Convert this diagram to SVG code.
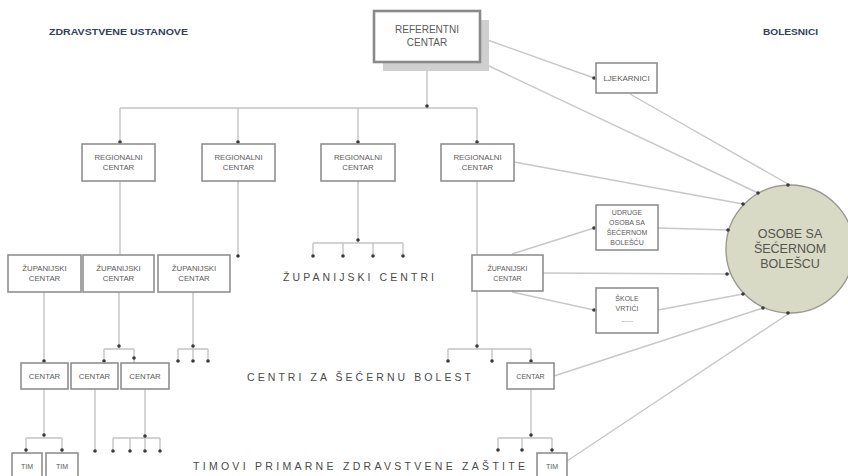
<svg xmlns="http://www.w3.org/2000/svg" width="848" height="476" viewBox="0 0 848 476">
<style>
.bg{fill:#fff}
.ln{fill:none;stroke:#c8c8c8;stroke-width:1.4}
.tr{fill:none;stroke:#c4c4c4;stroke-width:1.4}
.dot{fill:#3a3a3a}
.box{fill:#fff;stroke:#8f8f8f;stroke-width:1.6}
.t{font-family:"Liberation Sans",Arial,sans-serif;font-size:7.8px;fill:#5a5a5a;text-anchor:middle}
.s{font-size:7px}
.big{font-family:"Liberation Sans",Arial,sans-serif;font-size:10.5px;fill:#4a4a4a;letter-spacing:3px}
.hdr{font-family:"Liberation Sans",Arial,sans-serif;font-size:8.5px;fill:#34405e;font-weight:bold}
.ct{font-family:"Liberation Sans",Arial,sans-serif;font-size:12.5px;fill:#55554c;text-anchor:middle}
</style>
<rect class="bg" x="0" y="0" width="848" height="476"/>
<g id="connectors">
  <path class="tr" d="M427 62V108M120 108H477M120 108V144M238 108V144M358 108V144M477 108V144"/>
  <path class="tr" d="M120 181V255M238 181V255"/>
  <path class="tr" d="M358 181V243M313 243H403M313 243V256M343 243V256M373 243V256M403 243V256"/>
  <path class="tr" d="M477 181V349M448 349H531M448 349V361M492 349V361M531 349V363"/>
  <path class="tr" d="M44 292V363M119 292V349M104 349H134M104 349V363M134 349V363M193 292V349M178 349H208M178 349V361M193 349V361M208 349V361"/>
  <path class="tr" d="M44 389V438M26 438H62M26 438V453M62 438V453M95 389V451M145 389V438M113 438H160M113 438V451M130 438V451M145 438V451M160 438V451"/>
  <path class="tr" d="M531 389V438M498 438H552M498 438V450M522 438V450M552 438V453"/>
  <path class="ln" d="M482 38L594 78"/>
  <path class="ln" d="M487 65L758 193"/>
  <path class="ln" d="M630 94L788 184"/>
  <path class="ln" d="M514 162L743 204"/>
  <path class="ln" d="M658 228L728 230"/>
  <path class="ln" d="M543 273L730 274"/>
  <path class="ln" d="M658 310L743 294"/>
  <path class="ln" d="M554 376L763 308"/>
  <path class="ln" d="M567 461L788 314"/>
  <path class="ln" d="M512 254L594 228"/>
  <path class="ln" d="M512 292L594 310"/>
  <g class="dot">
    <circle cx="427" cy="106" r="1.8"/>
    <circle cx="120" cy="142" r="1.8"/><circle cx="238" cy="142" r="1.8"/><circle cx="358" cy="142" r="1.8"/><circle cx="477" cy="142" r="1.8"/>
    <circle cx="238" cy="256" r="1.8"/>
    <circle cx="358" cy="240" r="1.8"/>
    <circle cx="313" cy="256" r="1.8"/><circle cx="343" cy="256" r="1.8"/><circle cx="373" cy="256" r="1.8"/><circle cx="403" cy="256" r="1.8"/>
    <circle cx="477" cy="346" r="1.8"/>
    <circle cx="448" cy="361" r="1.8"/><circle cx="492" cy="361" r="1.8"/><circle cx="531" cy="361" r="1.8"/>
    <circle cx="44" cy="361" r="1.8"/>
    <circle cx="119" cy="346" r="1.8"/><circle cx="104" cy="361" r="1.8"/><circle cx="134" cy="358" r="1.8"/>
    <circle cx="193" cy="346" r="1.8"/><circle cx="178" cy="361" r="1.8"/><circle cx="193" cy="361" r="1.8"/><circle cx="208" cy="361" r="1.8"/>
    <circle cx="44" cy="435" r="1.8"/><circle cx="26" cy="450" r="1.8"/><circle cx="62" cy="450" r="1.8"/>
    <circle cx="95" cy="451" r="1.8"/>
    <circle cx="145" cy="436" r="1.8"/><circle cx="113" cy="451" r="1.8"/><circle cx="130" cy="451" r="1.8"/><circle cx="145" cy="451" r="1.8"/><circle cx="160" cy="451" r="1.8"/>
    <circle cx="531" cy="435" r="1.8"/><circle cx="498" cy="450" r="1.8"/><circle cx="522" cy="450" r="1.8"/><circle cx="552" cy="450" r="1.8"/>
    <circle cx="594" cy="78" r="1.8"/><circle cx="594" cy="228" r="1.8"/><circle cx="594" cy="310" r="1.8"/>
  </g>
</g>
<g id="labels">
  <text class="hdr" x="49" y="35" textLength="139" lengthAdjust="spacingAndGlyphs">ZDRAVSTVENE USTANOVE</text>
  <text class="hdr" x="763" y="35" textLength="55" lengthAdjust="spacingAndGlyphs">BOLESNICI</text>
  <text class="big" x="283" y="281" textLength="154" lengthAdjust="spacing">ŽUPANIJSKI CENTRI</text>
  <text class="big" x="247" y="381" textLength="227" lengthAdjust="spacing">CENTRI ZA ŠEĆERNU BOLEST</text>
  <text class="big" x="193" y="470" textLength="335" lengthAdjust="spacing">TIMOVI PRIMARNE ZDRAVSTVENE ZAŠTITE</text>
</g>
<g id="referentni">
  <rect x="383" y="20" width="106" height="51" fill="#cfcfcf"/>
  <rect x="374" y="11" width="106" height="51" fill="#fff" stroke="#8a8a8a" stroke-width="2.6"/>
  <text class="t" x="427" y="33" style="font-size:10px">REFERENTNI</text>
  <text class="t" x="427" y="46" style="font-size:10px">CENTAR</text>
</g>
<g id="regionalni1"><rect class="box" x="82" y="144" width="73" height="37"/><text class="t" x="118.5" y="160">REGIONALNI</text><text class="t" x="118.5" y="170">CENTAR</text></g>
<g id="regionalni2"><rect class="box" x="202" y="144" width="73" height="37"/><text class="t" x="238.5" y="160">REGIONALNI</text><text class="t" x="238.5" y="170">CENTAR</text></g>
<g id="regionalni3"><rect class="box" x="321" y="144" width="74" height="37"/><text class="t" x="358" y="160">REGIONALNI</text><text class="t" x="358" y="170">CENTAR</text></g>
<g id="regionalni4"><rect class="box" x="441" y="144" width="73" height="37"/><text class="t" x="477.5" y="160">REGIONALNI</text><text class="t" x="477.5" y="170">CENTAR</text></g>
<g id="zupanijski1"><rect class="box" x="8" y="255" width="73" height="37"/><text class="t" x="44.5" y="271">ŽUPANIJSKI</text><text class="t" x="44.5" y="281">CENTAR</text></g>
<g id="zupanijski2"><rect class="box" x="83" y="255" width="71" height="37"/><text class="t" x="118.5" y="271">ŽUPANIJSKI</text><text class="t" x="118.5" y="281">CENTAR</text></g>
<g id="zupanijski3"><rect class="box" x="158" y="255" width="72" height="37"/><text class="t" x="194" y="271">ŽUPANIJSKI</text><text class="t" x="194" y="281">CENTAR</text></g>
<g id="zupanijski4"><rect class="box" x="472" y="255" width="71" height="36"/><text class="t s" x="507.5" y="271">ŽUPANIJSKI</text><text class="t s" x="507.5" y="281">CENTAR</text></g>
<g id="centar1"><rect class="box" x="21" y="363" width="47" height="26"/><text class="t" x="44.5" y="379">CENTAR</text></g>
<g id="centar2"><rect class="box" x="71" y="363" width="47" height="26"/><text class="t" x="94.5" y="379">CENTAR</text></g>
<g id="centar3"><rect class="box" x="121" y="363" width="48" height="26"/><text class="t" x="145" y="379">CENTAR</text></g>
<g id="centar4"><rect class="box" x="507" y="363" width="47" height="26"/><text class="t s" x="530.5" y="379">CENTAR</text></g>
<g id="tim1"><rect class="box" x="12" y="453" width="30" height="30"/><text class="t s" x="27" y="468.5">TIM</text></g>
<g id="tim2"><rect class="box" x="46" y="453" width="32" height="30"/><text class="t s" x="62" y="468.5">TIM</text></g>
<g id="tim3"><rect class="box" x="537" y="453" width="30" height="30"/><text class="t s" x="552" y="468.5">TIM</text></g>
<g id="ljekarnici"><rect class="box" x="596" y="63" width="61" height="30"/><text class="t" x="626.5" y="81" style="font-size:8px">LJEKARNICI</text></g>
<g id="udruge"><rect class="box" x="596" y="205" width="62" height="45"/>
  <text class="t s" x="627" y="214.5">UDRUGE</text><text class="t s" x="627" y="224.5">OSOBA SA</text><text class="t s" x="627" y="234.5">ŠEĆERNOM</text><text class="t s" x="627" y="244.5">BOLEŠĆU</text></g>
<g id="skole"><rect class="box" x="596" y="288" width="62" height="45"/>
  <text class="t s" x="627" y="300.5">ŠKOLE</text><text class="t s" x="627" y="310.5">VRTIĆI</text><text class="t s" x="627" y="322">......</text></g>
<g id="osobe">
  <circle cx="790" cy="249" r="64" fill="#d8dac6" stroke="#9a9a90" stroke-width="1.4"/>
  <text class="ct" x="790" y="238">OSOBE SA</text>
  <text class="ct" x="790" y="253">ŠEĆERNOM</text>
  <text class="ct" x="790" y="268">BOLEŠCU</text>
  <g class="dot">
    <circle cx="788" cy="185" r="1.8"/><circle cx="758" cy="193" r="1.8"/><circle cx="743" cy="204" r="1.8"/><circle cx="728" cy="230" r="1.8"/><circle cx="727" cy="274" r="1.8"/><circle cx="743" cy="294" r="1.8"/><circle cx="763" cy="308" r="1.8"/><circle cx="788" cy="313" r="1.8"/>
  </g>
</g>
</svg>
